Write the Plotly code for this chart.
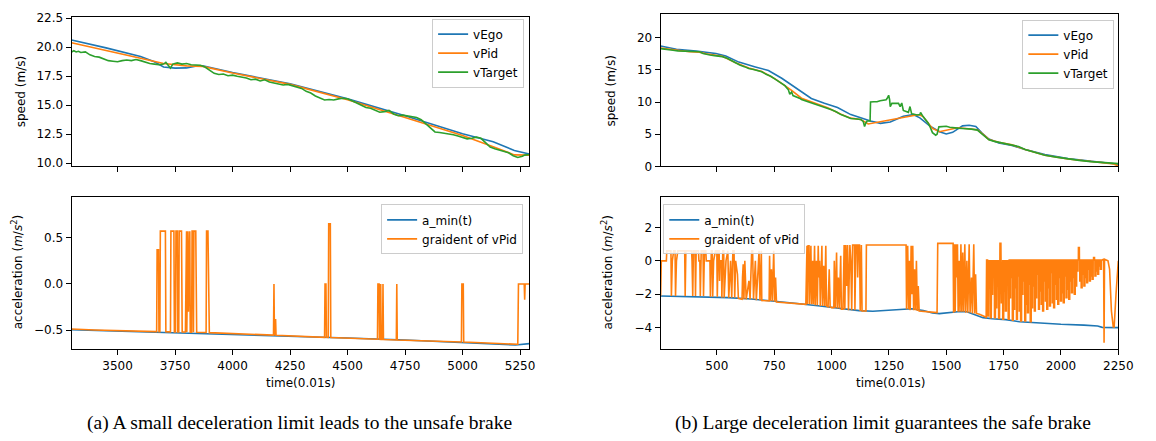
import plotly.graph_objects as go

# ---------------- Panel (a) top: speeds ----------------
a_ego_t = [3300, 3450, 3600, 3660, 3700, 3750, 3800, 3850, 3870, 4000, 4250, 4500, 4750, 5000, 5133, 5225, 5290]
a_ego_v = [20.62, 19.95, 19.2, 18.75, 18.3, 18.2, 18.22, 18.4, 18.4, 17.82, 16.85, 15.55, 14.1, 12.55, 11.85, 11.1, 10.8]

a_pid_t = [3300, 3450, 3600, 3700, 3800, 3870, 4000, 4250, 4500, 4750, 5000, 5133, 5225, 5290]
a_pid_v = [20.39, 19.75, 19.05, 18.6, 18.4, 18.35, 17.78, 16.8, 15.47, 13.95, 12.4, 11.42, 10.72, 10.7]

a_tgt_t = [3300, 3310, 3320, 3330, 3340, 3360, 3380, 3400, 3420, 3440, 3460, 3480, 3500, 3520, 3540, 3560,
           3580, 3600, 3620, 3640, 3660, 3680, 3700, 3710, 3720, 3730, 3740, 3760, 3780, 3800, 3820, 3840,
           3860, 3880, 3900, 3920, 3940, 3960, 3980, 4000, 4020, 4040, 4060, 4080, 4100, 4120, 4140, 4160,
           4180, 4200, 4220, 4240, 4260, 4280, 4300, 4320, 4340, 4360, 4380, 4400, 4420, 4440, 4460, 4480,
           4500, 4520, 4540, 4560, 4580, 4600, 4620, 4640, 4660, 4680, 4700, 4720, 4740, 4760, 4780, 4800,
           4820, 4840, 4860, 4880, 4900, 4920, 4940, 4960, 4980, 5000, 5020, 5040, 5060, 5080, 5100, 5120,
           5140, 5160, 5180, 5200, 5220, 5240, 5260, 5270, 5290]
a_tgt_v = [19.6, 19.7, 19.6, 19.65, 19.55, 19.6, 19.35, 19.2, 19.15, 19.0, 18.85, 18.8, 18.75, 18.85, 18.9, 18.85,
           18.95, 18.85, 18.7, 18.6, 18.55, 18.5, 18.55, 18.7, 18.45, 18.2, 18.55, 18.65, 18.55, 18.6, 18.5, 18.5,
           18.45, 18.3, 18.0, 17.75, 17.65, 17.7, 17.55, 17.6, 17.5, 17.45, 17.35, 17.2, 17.25, 17.1, 17.2, 17.0,
           16.9, 16.8, 16.75, 16.8, 16.7, 16.6, 16.45, 16.2, 16.05, 15.8, 15.6, 15.45, 15.5, 15.45, 15.55, 15.6,
           15.55, 15.4, 15.2, 15.0, 14.8, 14.75, 14.55, 14.4, 14.45, 14.55, 14.25, 14.1, 14.15, 14.1, 14.05, 13.95,
           13.75, 13.4, 13.0, 12.7, 12.65, 12.6, 12.5, 12.45, 12.35, 12.25, 12.1, 12.15, 12.25, 12.15, 11.8, 11.4,
           11.25, 11.15, 11.0, 10.9, 10.65, 10.5, 10.6, 10.7, 10.75]

# ---------------- Panel (a) bottom: accelerations ----------------
a_amin_t = [3300, 3500, 3750, 4000, 4250, 4500, 4750, 5000, 5150, 5230, 5290]
a_amin_v = [-0.495, -0.51, -0.525, -0.54, -0.56, -0.585, -0.605, -0.63, -0.65, -0.66, -0.645]

a_grad_t = [3300, 3400, 3670, 3672, 3678, 3680, 3684, 3686, 3708, 3710, 3730, 3732, 3745, 3747, 3752, 3754,
            3760, 3762, 3766, 3768, 3778, 3779, 3781, 3795, 3797, 3800, 3801, 3803, 3806, 3808, 3810, 3812,
            3814, 3816, 3822, 3824, 3828, 3830, 3832, 3840, 3842, 3844, 3885, 3887, 3893, 3895, 3897, 3899,
            4178, 4180, 4182, 4184, 4187, 4189, 4400, 4402, 4406, 4408, 4416, 4418, 4425, 4427, 4630, 4632,
            4637, 4639, 4642, 4644, 4646, 4652, 4654, 4656, 4712, 4714, 4716, 4995, 4997, 5003, 5005, 5240,
            5243, 5268, 5270, 5272, 5290]
a_grad_v = [-0.487, -0.497, -0.515, 0.37, 0.37, -0.515, -0.515, 0.57, 0.57, -0.517, -0.518, 0.57, 0.57, -0.518, -0.518, 0.57,
            0.57, -0.519, -0.519, 0.57, 0.57, -0.15, -0.52, -0.52, 0.57, 0.57, -0.52, 0.57, 0.57, -0.3, 0.0, 0.57,
            0.57, -0.521, -0.521, 0.57, 0.57, -0.522, 0.57, 0.57, 0.0, -0.522, -0.525, 0.57, 0.57, 0.0, -0.3, -0.526,
            -0.553, 0.0, -0.553, -0.38, -0.38, -0.554, -0.577, 0.0, 0.0, -0.577, -0.578, 0.65, 0.65, -0.579, -0.598, 0.0,
            0.0, -0.598, -0.599, 0.0, -0.599, -0.599, 0.0, -0.6, -0.605, 0.0, -0.605, -0.627, 0.0, 0.0, -0.628, -0.652,
            0.0, 0.0, -0.17, 0.0, 0.0]

# ---------------- Panel (b) top: speeds ----------------
b_ego_t = [255, 324, 410, 496, 539, 596, 668, 725, 783, 840, 912, 969, 1026, 1084, 1127, 1170, 1213, 1256,
           1313, 1356, 1385, 1428, 1471, 1500, 1528, 1571, 1600, 1629, 1657, 1686, 1729, 1787, 1844, 1930,
           2030, 2131, 2250]
b_ego_v = [18.7, 18.2, 17.9, 17.55, 17.15, 16.2, 15.45, 14.9, 13.7, 12.3, 10.55, 9.8, 9.15, 8.05, 7.55, 7.05, 6.7, 6.9,
           7.8, 8.05, 7.55, 6.3, 5.4, 5.05, 5.3, 6.3, 6.4, 6.2, 5.15, 4.25, 3.65, 3.25, 2.65, 1.85,
           1.25, 0.85, 0.35]

b_pid_t = [255, 309, 381, 424, 453, 524, 582, 639, 696, 754, 797, 826, 869, 926, 983, 1041, 1084, 1127, 1160,
           1370, 1385, 1399, 1421, 1440, 1470, 1550, 1586, 1636, 1657, 1686, 1729, 1787, 1844, 1930, 2030, 2131,
           2230, 2245, 2250]
b_pid_v = [18.4, 18.1, 17.8, 17.75, 17.5, 17.1, 16.1, 15.3, 14.75, 13.6, 12.6, 11.8, 10.6, 9.85, 9.1, 8.1, 7.5, 7.3, 6.6,
           8.0, 8.0, 7.75, 6.8, 5.9, 5.4, 6.0, 5.9, 5.7, 5.1, 4.2, 3.75, 3.35, 2.65, 1.75, 1.15, 0.75,
           0.4, 0.15, 0.1]

b_tgt_t = [255, 270, 290, 309, 330, 350, 381, 400, 424, 440, 453, 470, 490, 510, 524, 545, 565, 582, 600, 620,
           639, 660, 680, 696, 715, 735, 754, 770, 785, 797, 805, 812, 818, 826, 832, 840, 850, 860, 869, 890,
           910, 926, 945, 965, 983, 1000, 1020, 1041, 1060, 1084, 1100, 1115, 1127, 1138, 1144, 1150, 1155, 1168,
           1170, 1185, 1198, 1212, 1227, 1238, 1242, 1249, 1253, 1256, 1263, 1275, 1292, 1299, 1306, 1313, 1325,
           1335, 1342, 1349, 1360, 1372, 1385, 1388, 1399, 1410, 1421, 1430, 1440, 1454, 1460, 1468, 1485, 1500,
           1515, 1528, 1550, 1570, 1586, 1610, 1636, 1657, 1686, 1710, 1729, 1760, 1787, 1815, 1844, 1890, 1930,
           1980, 2030, 2080, 2131, 2190, 2250]
b_tgt_v = [18.3, 18.2, 18.1, 18.05, 17.95, 17.9, 17.8, 17.85, 17.8, 17.55, 17.4, 17.3, 17.2, 17.1, 17.05, 16.8, 16.4, 16.05, 15.75, 15.5,
           15.2, 15.05, 14.9, 14.7, 14.3, 14.0, 13.55, 13.2, 12.9, 12.55, 12.2, 11.9, 11.2, 11.55, 11.0, 10.9, 10.7, 10.6, 10.4, 10.15,
           9.9, 9.8, 9.5, 9.3, 9.05, 8.8, 8.5, 8.05, 7.8, 7.45, 7.4, 7.3, 7.3, 7.0, 6.2, 6.8, 7.05, 7.05,
           10.0, 10.05, 10.05, 10.2, 10.3, 10.35, 10.55, 11.05, 10.4, 9.3, 9.8, 9.8, 9.8, 9.3, 9.85, 8.7, 8.6,
           8.4, 9.3, 8.2, 8.1, 8.0, 8.05, 8.4, 7.75, 7.3, 6.75, 6.1, 5.25, 4.85, 5.0, 6.15, 6.2, 6.25,
           6.1, 6.0, 5.95, 5.9, 5.9, 5.8, 5.65, 5.0, 4.15, 3.9, 3.75, 3.55, 3.35, 3.1, 2.65, 2.2, 1.75,
           1.45, 1.15, 0.95, 0.75, 0.6, 0.45]

# ---------------- Panel (b) bottom: accelerations ----------------
b_amin_t = [255, 350, 450, 550, 650, 750, 850, 950, 1050, 1120, 1180, 1250, 1300, 1350, 1400, 1440, 1470, 1510,
            1560, 1590, 1620, 1660, 1700, 1760, 1820, 1900, 2000, 2100, 2160, 2180, 2250]
b_amin_v = [-2.1, -2.12, -2.15, -2.2, -2.28, -2.4, -2.55, -2.7, -2.88, -2.98, -3.02, -2.95, -2.88, -2.87, -2.97, -3.12, -3.16, -3.1,
            -3.03, -3.05, -3.2, -3.4, -3.47, -3.52, -3.65, -3.72, -3.8, -3.85, -3.9, -3.98, -4.0]

# gradient of vPid: switching segments before the dense part
b_grad_head = [(255, -2.1), (258, 0.0), (280, 0.0), (282, 0.6), (300, 0.6), (302, -2.1), (306, 0.0), (312, 0.6),
               (318, 0.6), (320, -2.1), (324, 0.0), (330, 0.6), (360, 0.6), (362, -2.1), (365, 0.6), (390, 0.6),
               (392, 0.0), (395, -2.1), (398, 0.6), (405, 0.6), (407, -2.1), (410, 0.6), (420, 0.6), (422, 0.0),
               (426, 0.0), (428, -2.1), (432, 0.6), (440, 0.6), (442, -2.1), (446, 0.6), (452, 0.6), (454, 0.0),
               (470, 0.0), (472, -2.15), (476, 0.6), (480, 0.6), (482, -2.15), (486, 0.0), (494, 0.6), (500, 0.6),
               (502, -2.15), (506, 0.6), (510, 0.6), (512, -1.2), (514, 0.0), (520, 0.0), (522, -2.2), (526, 0.6),
               (530, 0.6), (532, -2.2), (540, 0.0), (548, 0.6), (552, -2.2), (556, -1.0), (560, 0.0), (565, -2.2),
               (570, 0.6), (575, 0.6), (578, -2.2), (582, 0.0), (590, -0.8), (594, -2.25), (610, -2.3), (612, -1.0),
               (615, -0.2), (618, -2.3), (622, 0.0), (628, -2.3), (640, -1.2), (645, -2.3), (652, 0.6), (656, 0.6),
               (660, -2.3), (668, 0.0), (672, -2.35), (680, -0.5), (684, 0.6), (688, -2.35), (692, -0.5), (694, 0.6),
               (696, -2.37), (728, -2.4), (730, 0.3), (733, -2.4), (738, -0.5), (742, -2.42), (748, 0.6), (752, -2.45),
               (756, -1.0), (760, -2.46), (888, -2.6), (890, 0.9), (893, 0.9), (895, -2.6), (898, 0.9), (902, 0.9),
               (904, -2.6), (908, -0.5), (910, 0.9), (913, -2.6), (918, 0.0), (921, -2.6), (926, 0.9), (929, -2.65),
               (934, 0.0), (938, -2.65), (942, 0.9), (945, -1.0), (948, 0.0), (951, -2.7), (958, 0.9), (961, -2.7),
               (966, -0.3), (970, -2.7), (975, 0.9), (978, -2.7), (985, -2.75), (990, -0.5), (994, -2.75), (1000, -2.8),
               (1010, -2.8), (1012, 0.0), (1016, -2.8), (1022, 0.5), (1025, -2.85), (1030, -1.0), (1034, -2.85),
               (1040, 0.3), (1043, -2.9), (1050, -2.9), (1055, 0.95), (1058, -2.9), (1062, 0.95), (1066, -1.5),
               (1070, 0.95), (1074, -2.95), (1080, 0.95), (1084, 0.0), (1088, -2.95), (1092, 0.95), (1100, 0.95),
               (1102, -2.95), (1106, 0.95), (1112, 0.95), (1114, -1.0), (1117, 0.95), (1122, 0.95), (1125, -3.0),
               (1130, 0.95), (1133, -3.0), (1150, -3.0), (1152, 0.95), (1325, 0.95), (1327, -2.9), (1332, 0.9),
               (1336, -2.9), (1340, 0.0), (1343, -2.95), (1347, 0.9), (1350, -2.0), (1354, 0.9), (1358, -2.95),
               (1362, -0.5), (1366, -2.95), (1370, 0.0), (1374, -3.0), (1378, -1.5), (1382, -3.0), (1460, -3.1),
               (1463, 1.05), (1530, 1.05), (1532, -3.1), (1536, 1.0), (1539, -3.05), (1543, 1.0), (1546, -1.0),
               (1549, 1.0), (1552, -3.05), (1556, 0.0), (1560, -3.05), (1564, 1.0), (1568, -3.05), (1572, 0.5),
               (1576, -3.05), (1581, 1.0), (1585, -3.1), (1590, 0.0), (1594, -3.1), (1600, 1.0), (1604, -3.1),
               (1610, -1.0), (1614, -3.15), (1620, 1.0), (1624, -3.15), (1628, -0.8), (1632, -3.15), (1645, -3.2),
               (1674, -3.38), (1676, 0.05)]

# dense oscillation 1680-2176: pulse depths (one pulse every 6 time units)
b_dense_start = 1680
b_dense_depth = [-3.3, -1.2, -3.4, -2.0, -0.6, -3.4, -2.8, -1.5, -3.45, 1.05, -2.5, -3.5, -1.8, -3.0, -0.5, -3.5,
                 -2.2, -1.0, -3.55, -2.9, -1.6, -3.5, -0.9, -3.0, -3.6, -2.0, -1.2, -3.6, -2.6, -3.1, -1.4, -3.65,
                 -2.8, -1.5, -3.0, -2.2, -0.8, -2.9, -1.8, -2.6, -3.0, -1.2, -2.4, -2.9, -1.6, -2.7, -0.7, -2.5,
                 -2.8, -1.4, -2.3, -2.6, -1.0, -2.4, -1.9, -2.5, -0.9, -2.2, -1.7, -2.3, -1.2,
                 -1.9, -1.0, -2.0, -1.5, -0.6, 0.8, -1.2, -1.6, -0.8, -1.5, -1.0, -1.3, -0.5, -1.2, -0.9, -1.1,
                 0.2, -0.9, -0.6, -0.8, -0.3, -0.5]
b_dense_top = 0.05

b_grad_tail = [(2180, 0.05), (2186, 0.1), (2188, -4.9), (2190, 0.1), (2205, 0.0), (2212, -0.5), (2215, -1.5),
               (2220, -3.0), (2228, -3.95), (2232, -3.95), (2240, -2.0), (2246, -0.6), (2250, 0.0)]

# ---------------- assemble the gradient series (square pulses) ----------------
b_grad_t = [p[0] for p in b_grad_head]
b_grad_v = [p[1] for p in b_grad_head]
for i, d in enumerate(b_dense_depth):
    t0 = b_dense_start + 6 * i
    b_grad_t += [t0, t0 + 0.3, t0 + 4.2, t0 + 4.5]
    b_grad_v += [b_dense_top, d, d, b_dense_top]
b_grad_t += [p[0] for p in b_grad_tail]
b_grad_v += [p[1] for p in b_grad_tail]

BLUE, ORANGE, GREEN = '#1f77b4', '#ff7f0e', '#2ca02c'
FONT = 'DejaVu Sans'

fig = go.Figure()


def add(x, y, color, name, xa, ya, legend):
    fig.add_trace(go.Scatter(x=x, y=y, mode='lines', name=name, line=dict(color=color, width=1.6),
                             xaxis=xa, yaxis=ya, legend=legend))


add(a_ego_t, a_ego_v, BLUE, 'vEgo', 'x', 'y', 'legend')
add(a_pid_t, a_pid_v, ORANGE, 'vPid', 'x', 'y', 'legend')
add(a_tgt_t, a_tgt_v, GREEN, 'vTarget', 'x', 'y', 'legend')
add(a_amin_t, a_amin_v, BLUE, 'a_min(t)', 'x2', 'y2', 'legend2')
add(a_grad_t, a_grad_v, ORANGE, 'graident of vPid', 'x2', 'y2', 'legend2')
add(b_ego_t, b_ego_v, BLUE, 'vEgo', 'x3', 'y3', 'legend3')
add(b_pid_t, b_pid_v, ORANGE, 'vPid', 'x3', 'y3', 'legend3')
add(b_tgt_t, b_tgt_v, GREEN, 'vTarget', 'x3', 'y3', 'legend3')
add(b_amin_t, b_amin_v, BLUE, 'a_min(t)', 'x4', 'y4', 'legend4')
add(b_grad_t, b_grad_v, ORANGE, 'graident of vPid', 'x4', 'y4', 'legend4')

W, H = 1156, 441
axis = dict(showline=True, linecolor='black', linewidth=1, mirror=True, ticks='outside', ticklen=5,
            tickwidth=1, tickcolor='black', showgrid=False, zeroline=False,
            tickfont=dict(family=FONT, size=12, color='black'))

xa_dom = [72.5 / W, 536 / W]
xb_dom = [669.3 / W, 1133 / W]
top_a = [1 - 166 / H, 1 - 12 / H]
top_b = [1 - 166 / H, 1 - 9.7 / H]
bot = [1 - 354 / H, 1 - 197.3 / H]

a_xticks = [3500, 3750, 4000, 4250, 4500, 4750, 5000, 5250]
b_xticks = [500, 750, 1000, 1250, 1500, 1750, 2000, 2250]
a_yticks_top = [10.0, 12.5, 15.0, 17.5, 20.0, 22.5]
a_yticks_bot = [-0.5, 0.0, 0.5]
b_yticks_top = [0, 5, 10, 15, 20]
b_yticks_bot = [-4, -2, 0, 2]


def lab(v, fmt):
    return (fmt % v).replace('-', '\u2212')


fig.update_layout(
    width=W, height=H, margin=dict(l=0, r=0, t=0, b=0),
    paper_bgcolor='white', plot_bgcolor='white',
    font=dict(family=FONT, size=12, color='black'),
    xaxis=dict(axis, domain=xa_dom, anchor='y', range=[3300, 5289], tickvals=a_xticks, showticklabels=False),
    xaxis2=dict(axis, domain=xa_dom, anchor='y2', range=[3300, 5289], tickvals=a_xticks),
    xaxis3=dict(axis, domain=xb_dom, anchor='y3', range=[255, 2250], tickvals=b_xticks, showticklabels=False),
    xaxis4=dict(axis, domain=xb_dom, anchor='y4', range=[255, 2250], tickvals=b_xticks),
    yaxis=dict(axis, domain=top_a, anchor='x', range=[9.72, 22.64], tickvals=a_yticks_top,
               ticktext=[lab(v, '%.1f') for v in a_yticks_top]),
    yaxis2=dict(axis, domain=bot, anchor='x2', range=[-0.707, 0.94], tickvals=a_yticks_bot,
                ticktext=[lab(v, '%.1f') for v in a_yticks_bot]),
    yaxis3=dict(axis, domain=top_b, anchor='x3', range=[0, 23.6], tickvals=b_yticks_top,
                ticktext=[lab(v, '%d') for v in b_yticks_top]),
    yaxis4=dict(axis, domain=bot, anchor='x4', range=[-5.3, 3.83], tickvals=b_yticks_bot,
                ticktext=[lab(v, '%d') for v in b_yticks_bot]),
)

leg = dict(bgcolor='rgba(255,255,255,0.85)', bordercolor='#cccccc', borderwidth=1,
           font=dict(family=FONT, size=12, color='black'), yanchor='top', tracegroupgap=0)
fig.update_layout(
    legend=dict(leg, x=531 / W, xanchor='right', y=1 - 14 / H),
    legend2=dict(leg, x=530 / W, xanchor='right', y=1 - 205 / H),
    legend3=dict(leg, x=1129 / W, xanchor='right', y=1 - 15 / H),
    legend4=dict(leg, x=672 / W, xanchor='left', y=1 - 205 / H),
)

ann = []


def text(x, y, s, size=12, angle=0, family=FONT):
    ann.append(dict(x=x / W, y=1 - y / H, xref='paper', yref='paper', text=s, showarrow=False,
                    textangle=angle, xanchor='center', yanchor='middle',
                    font=dict(family=family, size=size, color='black')))


text(21, 89, 'speed (m/s)', angle=-90)
text(619, 88, 'speed (m/s)', angle=-90)
acc = 'acceleration (<i>m</i>/<i>s</i><sup>2</sup>)'
text(17, 275, acc, angle=-90)
text(614, 275, acc, angle=-90)
text(304, 389, 'time(0.01s)')
text(902, 389, 'time(0.01s)')
text(303, 430, '(a) A small deceleration limit leads to the unsafe brake', size=19.5, family='Liberation Serif')
text(895, 430, '(b) Large deceleration limit guarantees the safe brake', size=19.5, family='Liberation Serif')
fig.update_layout(annotations=ann)

fig.write_html('out.html')
